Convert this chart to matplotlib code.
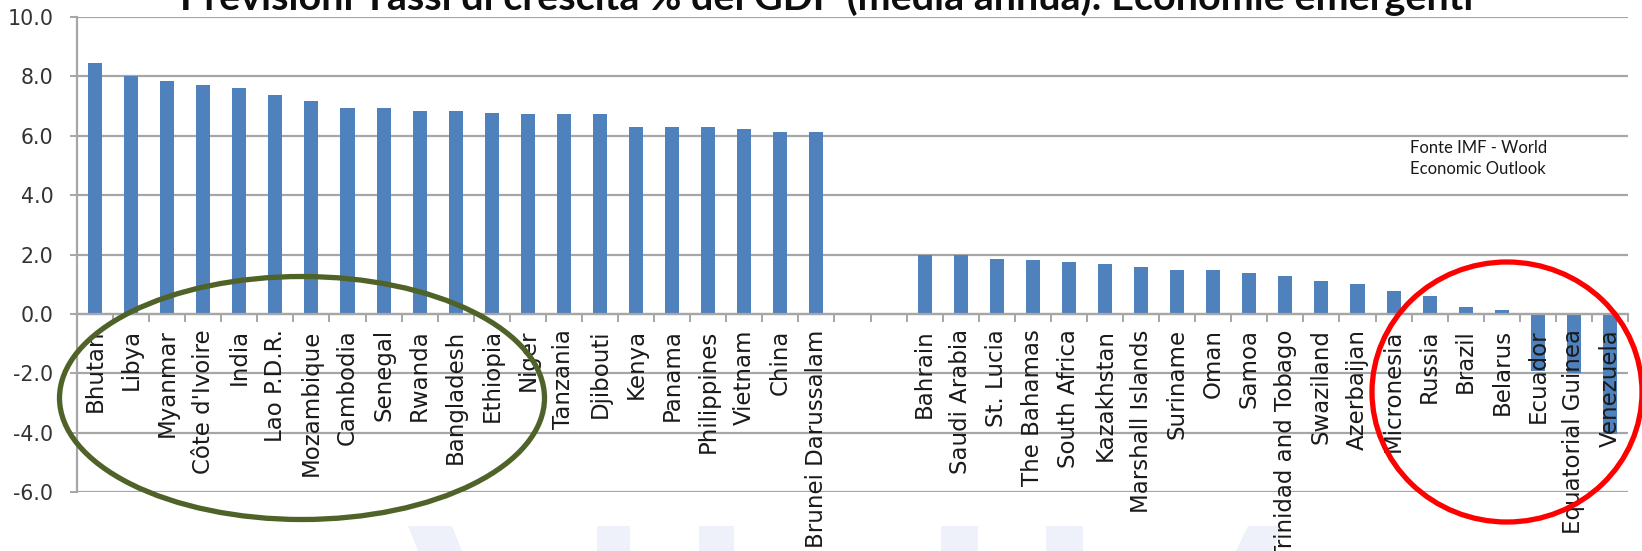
import matplotlib
matplotlib.use("Agg")
import matplotlib.pyplot as plt
from matplotlib.patches import Ellipse, Polygon
import numpy as np

# Average annual GDP growth forecasts (%), emerging economies
fast_names = ["Bhutan", "Libya", "Myanmar", "Côte d'Ivoire", "India", "Lao P.D.R.",
              "Mozambique", "Cambodia", "Senegal", "Rwanda", "Bangladesh", "Ethiopia",
              "Niger", "Tanzania", "Djibouti", "Kenya", "Panama", "Philippines",
              "Vietnam", "China", "Brunei Darussalam"]
fast_values = [8.45, 8.0, 7.85, 7.7, 7.6, 7.35, 7.15, 6.92, 6.92, 6.82, 6.82, 6.76,
               6.72, 6.72, 6.72, 6.28, 6.28, 6.28, 6.22, 6.12, 6.12]

slow_names = ["Bahrain", "Saudi Arabia", "St. Lucia", "The Bahamas", "South Africa",
              "Kazakhstan", "Marshall Islands", "Suriname", "Oman", "Samoa",
              "Trinidad and Tobago", "Swaziland", "Azerbaijan", "Micronesia", "Russia",
              "Brazil", "Belarus", "Ecuador", "Equatorial Guinea", "Venezuela"]
slow_values = [2.0, 2.0, 1.85, 1.8, 1.74, 1.69, 1.58, 1.48, 1.48, 1.37, 1.27, 1.1,
               1.0, 0.79, 0.62, 0.24, 0.12, -1.9, -2.0, -4.05]

y_ticks = [-6.0, -4.0, -2.0, 0.0, 2.0, 4.0, 6.0, 8.0, 10.0]

title = "Previsioni Tassi di crescita % del GDP (media annua): Economie emergenti"
source_note = "Fonte IMF - World\nEconomic Outlook"

W, H = 1642, 551
fig = plt.figure(figsize=(W / 100, H / 100), dpi=100)

# faint background watermark shapes along the bottom edge
bg = fig.add_axes([0, 0, 1, 1], zorder=0)
bg.set_xlim(0, W)
bg.set_ylim(H, 0)
bg.axis("off")
for x0, x1, slant in [(418, 462, -10), (597, 630, 0), (699, 734, 0), (941, 978, 0),
                      (1046, 1083, 0), (1236, 1272, 12)]:
    bg.add_patch(Polygon([(x0 + slant, 526), (x1 + slant, 526), (x1, H), (x0, H)],
                         closed=True, facecolor="#eef1fa", edgecolor="none"))

# main bar chart
gap = 2
names = fast_names + [""] * gap + slow_names
x_fast = np.arange(len(fast_names))
x_slow = np.arange(len(slow_names)) + len(fast_names) + gap
n_slots = len(names)

left, right = 77 / W, 1628 / W
bottom, top = (H - 492.4) / H, (H - 16.7) / H
ax = fig.add_axes([left, bottom, right - left, top - bottom], zorder=1)
ax.patch.set_alpha(0)

bar_color = "#4f81bd"
ax.bar(x_fast, fast_values, width=0.39, color=bar_color, zorder=3)
ax.bar(x_slow, slow_values, width=0.39, color=bar_color, zorder=3)

ax.set_xlim(-0.5, n_slots - 0.5)
ax.set_ylim(y_ticks[0], y_ticks[-1])

grid_color = "#a6a6a6"
ax.set_yticks(y_ticks)
ax.set_yticklabels([f"{v:.1f}" for v in y_ticks])
ax.yaxis.grid(True, color=grid_color, linewidth=1.6)
ax.set_axisbelow(True)
ax.tick_params(axis="y", length=5, width=1.4, color=grid_color, pad=12,
               labelsize=14.8, labelcolor="#333333")

for s in ["top", "right"]:
    ax.spines[s].set_visible(False)
ax.spines["left"].set_color(grid_color)
ax.spines["left"].set_linewidth(1.6)
ax.spines["bottom"].set_position(("data", 0))
ax.spines["bottom"].set_color(grid_color)
ax.spines["bottom"].set_linewidth(1.6)
ax.spines["bottom"].set_zorder(4)

ax.set_xticks(np.arange(n_slots))
ax.set_xticklabels(names, rotation=90, va="top", ha="center")
ax.set_xticks(np.arange(n_slots + 1) - 0.5, minor=True)
ax.tick_params(axis="x", which="major", length=0, pad=11, labelsize=16.5,
               labelcolor="#1a1a1a")
ax.tick_params(axis="x", which="minor", length=6, width=1.4, color=grid_color)
# category labels sit on top of the negative bars
ax.xaxis.set_zorder(5)

fig.text(1410 / W, (H - 140) / H, source_note, fontsize=12, family="Lato",
         color="#1a1a1a", va="top", ha="left", linespacing=1.35)

# title, sized to span its intended width
t = fig.text(180 / W, (H - 10) / H, title, fontsize=30, fontweight="bold",
             family="Lato", color="#0d0d0d", ha="left", va="baseline")
renderer = fig.canvas.get_renderer()
w = t.get_window_extent(renderer).width
t.set_fontsize(30 * 1292 / w)

# highlight ellipses
ov = fig.add_axes([0, 0, 1, 1], zorder=5)
ov.set_xlim(0, W)
ov.set_ylim(H, 0)
ov.axis("off")
ov.patch.set_alpha(0)
ov.add_patch(Ellipse((302, 398), 485, 243, fill=False, edgecolor="#4f6228",
                     linewidth=3.8))
ov.add_patch(Ellipse((1507, 392), 270, 260, fill=False, edgecolor="#ff0000",
                     linewidth=3.8))

fig.savefig("out.png", dpi=100)
